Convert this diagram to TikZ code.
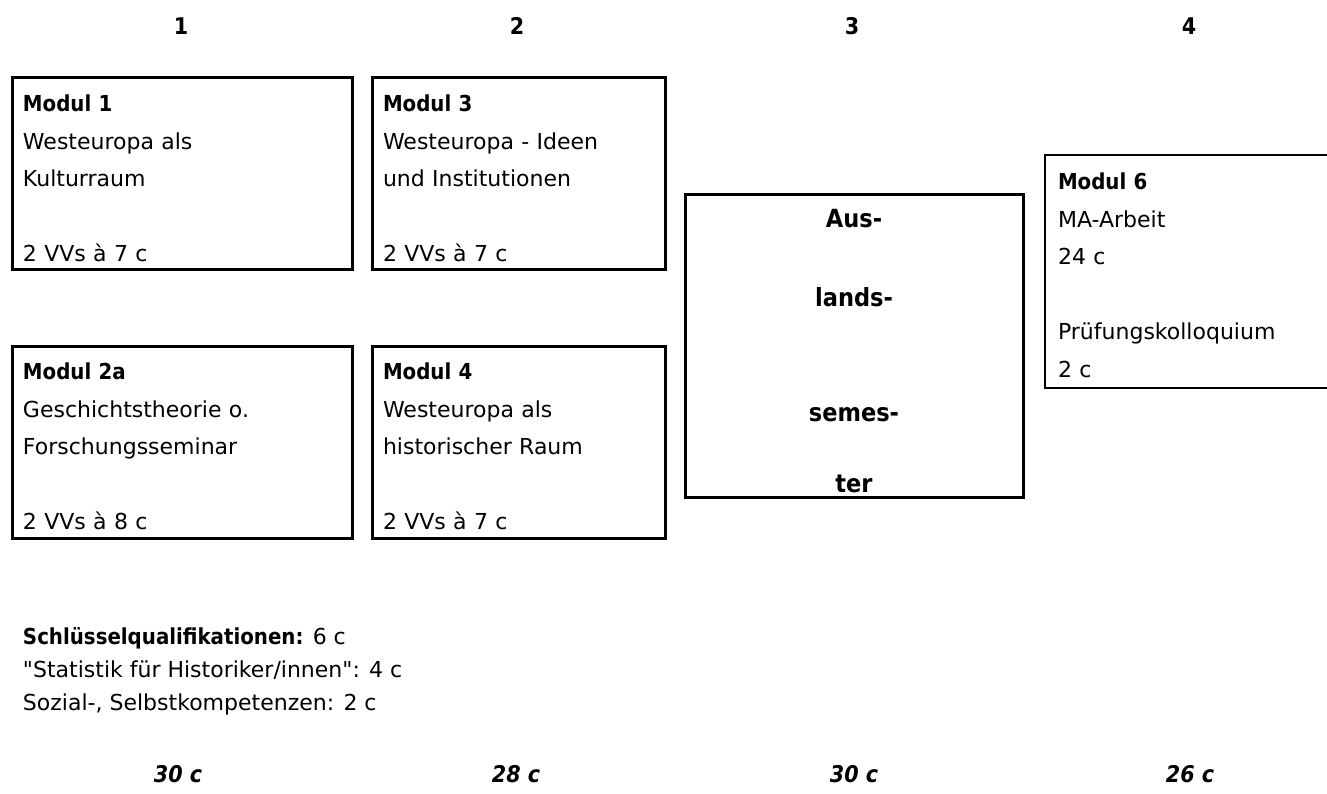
\documentclass[tikz,border=0pt]{standalone}
\usepackage{fontspec}
\setmainfont{DejaVu Sans}[Ligatures=TeXOff,BoldFont={DejaVu Sans Condensed Bold},BoldItalicFont={DejaVu Sans Condensed Bold Oblique}]
\usetikzlibrary{positioning}

\begin{document}
\begin{tikzpicture}[
		x=1pt, y=-1pt,
		every node/.style = {
			inner sep=0pt, outer sep=0pt,
			font=\fontsize{22}{37.5}\selectfont
		},
		modbox/.style = {
			draw, line width=3pt, anchor=north west,
			minimum height=192pt, inner xsep=11pt,
			align=left
		},
		semhead/.style = {anchor=base, font=\fontsize{23}{37.5}\selectfont\bfseries},
		semtotal/.style = {anchor=base, font=\fontsize{23}{37.5}\selectfont\bfseries\itshape}
		]
		\useasboundingbox (0,0) rectangle (1327,794);
		%semesters
		\node[semhead] (h1) at (181,35) {1};
		\node[semhead] (h2) at (517,35) {2};
		\node[semhead] (h3) at (852,35) {3};
		\node[semhead] (h4) at (1189,35) {4};
		
		\node[modbox, text width=318pt] (m1) at (12,78) {\rule{0pt}{26pt}\textbf{Modul 1}\\Westeuropa als\\Kulturraum\\[37.5pt]2 VVs à 7 c};
		\node[modbox, text width=271pt] (m3) at (372,78) {\rule{0pt}{26pt}\textbf{Modul 3}\\Westeuropa - Ideen\\und Institutionen\\[37.5pt]2 VVs à 7 c};
		\node[modbox, text width=318pt] (m2a) at (12,346) {\rule{0pt}{26pt}\textbf{Modul 2a}\\Geschichtstheorie o.\\Forschungsseminar\\[37.5pt]2 VVs à 8 c};
		\node[modbox, text width=271pt] (m4) at (372,346) {\rule{0pt}{26pt}\textbf{Modul 4}\\Westeuropa als\\historischer Raum\\[37.5pt]2 VVs à 7 c};
		
		\node[modbox, minimum width=338pt, minimum height=302pt, text width=338pt, inner xsep=0pt, align=center, font=\fontsize{25}{37.5}\selectfont\bfseries] (aus) at (685,195) {\rule{0pt}{28pt}Aus-\\[41.5pt]lands-\\[77.5pt]semes-\\[33.5pt]ter};
		
		\node[modbox, line width=2pt, minimum height=233pt, inner xsep=13pt, text width=274pt] (m6) at (1045,155) {\rule{0pt}{24pt}\textbf{Modul 6}\\MA-Arbeit\\24 c\\[37.5pt]Prüfungskolloquium\\2 c};
		
		\node[anchor=base west] (sq) at (23,644) {\textbf{Schlüsselqualifikationen:} 6 c};
		\node[anchor=base west] (sq1) at (23,677) {"Statistik für Historiker/innen": 4 c};
		\node[anchor=base west] (sq2) at (23,710) {Sozial-, Selbstkompetenzen: 2 c};
		
		\node[semtotal] (t1) at (178,782) {30 c};
		\node[semtotal] (t2) at (516,782) {28 c};
		\node[semtotal] (t3) at (854,782) {30 c};
		\node[semtotal] (t4) at (1190,782) {26 c};
	\end{tikzpicture}
\end{document}
